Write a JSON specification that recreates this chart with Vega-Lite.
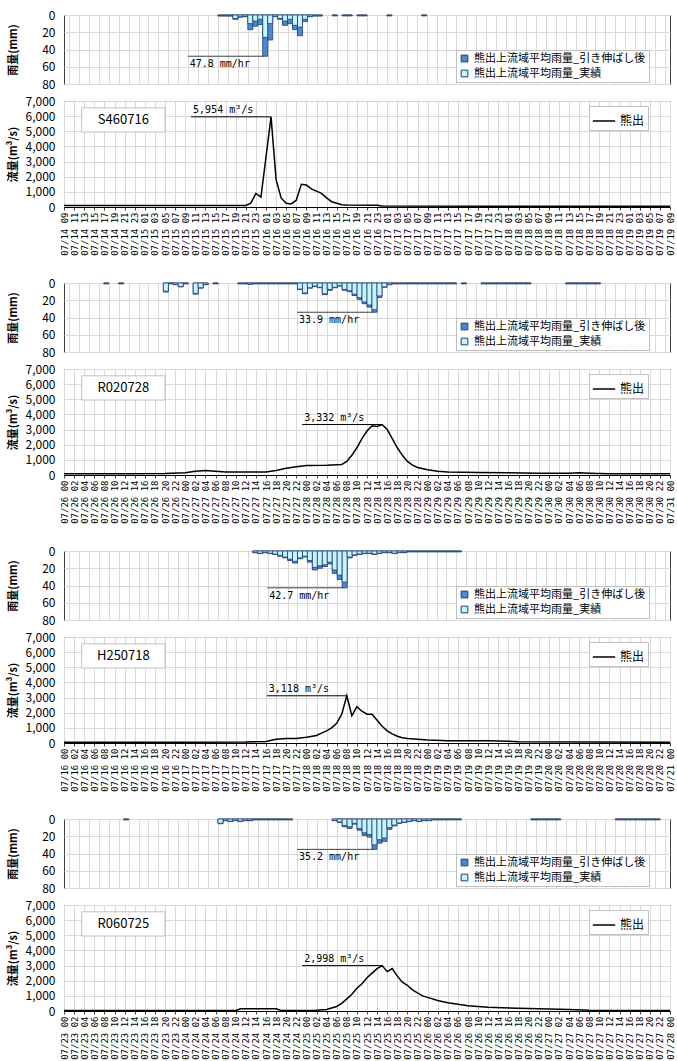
{
"$schema": "https://vega.github.io/schema/vega-lite/v6.json",
"padding": {"left": 6, "top": 8, "right": 4, "bottom": 0},
"config": {
  "font": "Noto Sans CJK JP",
  "view": {"stroke": "#404040", "strokeWidth": 1},
  "axis": {"gridColor": "#d9d9d9", "gridWidth": 1, "labelFont": "Noto Sans CJK JP", "titleFont": "Noto Sans CJK JP", "domainColor": "#404040", "tickColor": "#404040", "labelColor": "#000000", "titleColor": "#000000", "labelOverlap": false},
  "axisY": {"ticks": false, "domain": false, "labelPadding": 9, "labelFontSize": 12, "titleX": -51, "titleBaseline": "middle", "titleFontSize": 11, "titleFontWeight": "bold", "labelOverlap": false},
  "legend": {"labelFont": "Noto Sans CJK JP", "labelColor": "#000000"}
},
"datasets": {
"r1": [
{"t":"1971-07-15T15:00","s":1.2,"a":0.8},{"t":"1971-07-15T16:00","s":1.2,"a":0.8},{"t":"1971-07-15T17:00","s":1.2,"a":0.8},
{"t":"1971-07-15T18:00","s":5,"a":4},{"t":"1971-07-15T19:00","s":2.5,"a":2},{"t":"1971-07-15T20:00","s":2,"a":1.5},
{"t":"1971-07-15T21:00","s":17,"a":10},{"t":"1971-07-15T22:00","s":13,"a":7},{"t":"1971-07-15T23:00","s":11,"a":5},
{"t":"1971-07-16T00:00","s":47.8,"a":26},{"t":"1971-07-16T01:00","s":29,"a":10},{"t":"1971-07-16T02:00","s":2,"a":1.5},
{"t":"1971-07-16T03:00","s":5,"a":4},{"t":"1971-07-16T04:00","s":12,"a":7},{"t":"1971-07-16T05:00","s":10,"a":5},
{"t":"1971-07-16T06:00","s":17,"a":12},{"t":"1971-07-16T07:00","s":24,"a":14},{"t":"1971-07-16T08:00","s":7.5,"a":5},
{"t":"1971-07-16T09:00","s":2,"a":1.5},{"t":"1971-07-16T10:00","s":1.2,"a":0.8},{"t":"1971-07-16T11:00","s":1.2,"a":0.8},
{"t":"1971-07-16T14:00","s":1,"a":0.7},{"t":"1971-07-16T16:00","s":1,"a":0.7},{"t":"1971-07-16T17:00","s":1,"a":0.7},
{"t":"1971-07-16T19:00","s":1,"a":0.7},{"t":"1971-07-16T20:00","s":1,"a":0.7},{"t":"1971-07-17T01:00","s":1,"a":0.7},
{"t":"1971-07-17T08:00","s":1,"a":0.7}
],
"f1": [
{"t":"1971-07-14T09:00","q":100},{"t":"1971-07-15T09:00","q":100},{"t":"1971-07-15T21:00","q":100},
{"t":"1971-07-15T22:00","q":250},{"t":"1971-07-15T23:00","q":900},{"t":"1971-07-16T00:00","q":650},
{"t":"1971-07-16T01:00","q":3300},{"t":"1971-07-16T02:00","q":5954},{"t":"1971-07-16T03:00","q":1800},
{"t":"1971-07-16T04:00","q":600},{"t":"1971-07-16T05:00","q":250},{"t":"1971-07-16T06:00","q":200},
{"t":"1971-07-16T07:00","q":450},{"t":"1971-07-16T08:00","q":1500},{"t":"1971-07-16T09:00","q":1450},
{"t":"1971-07-16T10:00","q":1200},{"t":"1971-07-16T11:00","q":1050},{"t":"1971-07-16T12:00","q":900},
{"t":"1971-07-16T13:00","q":600},{"t":"1971-07-16T14:00","q":350},{"t":"1971-07-16T15:00","q":250},
{"t":"1971-07-16T16:00","q":150},{"t":"1971-07-16T17:00","q":130},{"t":"1971-07-16T23:00","q":120},
{"t":"1971-07-17T00:00","q":60},{"t":"1971-07-18T00:00","q":50},{"t":"1971-07-19T09:00","q":50}
],
"r2": [
{"t":"2020-07-26T07:00","s":1,"a":0.7},{"t":"2020-07-26T10:00","s":1,"a":0.7},{"t":"2020-07-26T19:00","s":10.5,"a":9.5},
{"t":"2020-07-26T20:00","s":1,"a":0.7},{"t":"2020-07-26T21:00","s":2,"a":1.5},{"t":"2020-07-26T22:00","s":4.5,"a":4},
{"t":"2020-07-26T23:00","s":1,"a":0.7},{"t":"2020-07-27T01:00","s":13,"a":12},{"t":"2020-07-27T02:00","s":6,"a":5.5},
{"t":"2020-07-27T03:00","s":2,"a":1.5},{"t":"2020-07-27T05:00","s":1,"a":0.7},
{"t":"2020-07-27T10:00","s":1,"a":0.7},{"t":"2020-07-27T11:00","s":1,"a":0.7},{"t":"2020-07-27T12:00","s":1.5,"a":1.2},
{"t":"2020-07-27T13:00","s":1,"a":0.7},{"t":"2020-07-27T14:00","s":1,"a":0.7},{"t":"2020-07-27T15:00","s":1,"a":0.7},
{"t":"2020-07-27T16:00","s":1,"a":0.7},{"t":"2020-07-27T17:00","s":1,"a":0.7},{"t":"2020-07-27T18:00","s":1,"a":0.7},
{"t":"2020-07-27T19:00","s":1,"a":0.7},{"t":"2020-07-27T20:00","s":1,"a":0.7},{"t":"2020-07-27T21:00","s":1,"a":0.7},
{"t":"2020-07-27T22:00","s":7.5,"a":7},{"t":"2020-07-27T23:00","s":12.5,"a":11.5},{"t":"2020-07-28T00:00","s":6,"a":5.5},
{"t":"2020-07-28T01:00","s":4,"a":3.5},{"t":"2020-07-28T02:00","s":5.5,"a":5},{"t":"2020-07-28T03:00","s":13.5,"a":12.5},
{"t":"2020-07-28T04:00","s":8.5,"a":7.5},{"t":"2020-07-28T05:00","s":5.5,"a":5},{"t":"2020-07-28T06:00","s":3.5,"a":3},
{"t":"2020-07-28T07:00","s":8.5,"a":7.5},{"t":"2020-07-28T08:00","s":10,"a":9},{"t":"2020-07-28T09:00","s":14.5,"a":13},
{"t":"2020-07-28T10:00","s":19,"a":17},{"t":"2020-07-28T11:00","s":24,"a":22},{"t":"2020-07-28T12:00","s":28,"a":25.5},
{"t":"2020-07-28T13:00","s":33.9,"a":31},{"t":"2020-07-28T14:00","s":17,"a":15},{"t":"2020-07-28T15:00","s":5,"a":4.5},
{"t":"2020-07-28T16:00","s":2,"a":1.5},{"t":"2020-07-28T17:00","s":1,"a":0.7},{"t":"2020-07-28T18:00","s":1,"a":0.7},
{"t":"2020-07-28T19:00","s":1,"a":0.7},{"t":"2020-07-28T20:00","s":1,"a":0.7},{"t":"2020-07-28T21:00","s":1,"a":0.7},
{"t":"2020-07-28T22:00","s":1,"a":0.7},{"t":"2020-07-28T23:00","s":1,"a":0.7},{"t":"2020-07-29T00:00","s":1,"a":0.7},
{"t":"2020-07-29T01:00","s":1,"a":0.7},{"t":"2020-07-29T02:00","s":1,"a":0.7},{"t":"2020-07-29T03:00","s":1,"a":0.7},
{"t":"2020-07-29T04:00","s":1,"a":0.7},{"t":"2020-07-29T05:00","s":1,"a":0.7},{"t":"2020-07-29T07:00","s":1,"a":0.7},
{"t":"2020-07-29T11:00","s":1,"a":0.7},{"t":"2020-07-29T12:00","s":1,"a":0.7},{"t":"2020-07-29T13:00","s":1,"a":0.7},
{"t":"2020-07-29T14:00","s":1,"a":0.7},{"t":"2020-07-29T15:00","s":1,"a":0.7},{"t":"2020-07-29T16:00","s":1,"a":0.7},
{"t":"2020-07-29T17:00","s":1,"a":0.7},{"t":"2020-07-29T18:00","s":1,"a":0.7},{"t":"2020-07-29T19:00","s":1,"a":0.7},
{"t":"2020-07-29T20:00","s":1,"a":0.7},{"t":"2020-07-30T04:00","s":1,"a":0.7},{"t":"2020-07-30T05:00","s":1,"a":0.7},
{"t":"2020-07-30T06:00","s":1,"a":0.7},{"t":"2020-07-30T07:00","s":1,"a":0.7},{"t":"2020-07-30T08:00","s":1,"a":0.7},
{"t":"2020-07-30T09:00","s":1,"a":0.7},{"t":"2020-07-30T10:00","s":1,"a":0.7}
],
"f2": [
{"t":"2020-07-26T00:00","q":80},{"t":"2020-07-26T12:00","q":80},{"t":"2020-07-26T20:00","q":100},
{"t":"2020-07-27T00:00","q":150},{"t":"2020-07-27T02:00","q":250},{"t":"2020-07-27T04:00","q":300},
{"t":"2020-07-27T06:00","q":250},{"t":"2020-07-27T08:00","q":200},{"t":"2020-07-27T16:00","q":200},
{"t":"2020-07-27T18:00","q":300},{"t":"2020-07-27T20:00","q":450},{"t":"2020-07-27T22:00","q":550},
{"t":"2020-07-28T00:00","q":620},{"t":"2020-07-28T04:00","q":650},{"t":"2020-07-28T07:00","q":700},
{"t":"2020-07-28T08:00","q":900},{"t":"2020-07-28T09:00","q":1300},{"t":"2020-07-28T10:00","q":1800},
{"t":"2020-07-28T11:00","q":2400},{"t":"2020-07-28T12:00","q":2900},{"t":"2020-07-28T13:00","q":3250},
{"t":"2020-07-28T14:00","q":3200},{"t":"2020-07-28T15:00","q":3332},{"t":"2020-07-28T16:00","q":3000},
{"t":"2020-07-28T17:00","q":2400},{"t":"2020-07-28T18:00","q":1800},{"t":"2020-07-28T19:00","q":1300},
{"t":"2020-07-28T20:00","q":900},{"t":"2020-07-28T21:00","q":650},{"t":"2020-07-28T22:00","q":500},
{"t":"2020-07-29T00:00","q":350},{"t":"2020-07-29T02:00","q":250},{"t":"2020-07-29T04:00","q":200},
{"t":"2020-07-29T10:00","q":170},{"t":"2020-07-29T16:00","q":150},{"t":"2020-07-29T22:00","q":120},
{"t":"2020-07-30T04:00","q":120},{"t":"2020-07-30T06:00","q":150},{"t":"2020-07-30T08:00","q":120},
{"t":"2020-07-30T12:00","q":80},{"t":"2020-07-31T00:00","q":80}
],
"r3": [
{"t":"2013-07-17T13:00","s":2,"a":1.5},{"t":"2013-07-17T14:00","s":3,"a":2.5},{"t":"2013-07-17T15:00","s":2,"a":1.5},
{"t":"2013-07-17T16:00","s":3,"a":2.5},{"t":"2013-07-17T17:00","s":4,"a":3.5},{"t":"2013-07-17T18:00","s":6,"a":5},
{"t":"2013-07-17T19:00","s":8,"a":7},{"t":"2013-07-17T20:00","s":11,"a":9.5},{"t":"2013-07-17T21:00","s":14,"a":12},
{"t":"2013-07-17T22:00","s":9,"a":8},{"t":"2013-07-17T23:00","s":7,"a":6},{"t":"2013-07-18T00:00","s":13,"a":11},
{"t":"2013-07-18T01:00","s":22,"a":19},{"t":"2013-07-18T02:00","s":20,"a":17},{"t":"2013-07-18T03:00","s":18,"a":16},
{"t":"2013-07-18T04:00","s":15,"a":13},{"t":"2013-07-18T05:00","s":26,"a":22},{"t":"2013-07-18T06:00","s":33,"a":28},
{"t":"2013-07-18T07:00","s":42.7,"a":36},{"t":"2013-07-18T08:00","s":8,"a":7},{"t":"2013-07-18T09:00","s":5,"a":4.5},
{"t":"2013-07-18T10:00","s":4,"a":3.5},{"t":"2013-07-18T11:00","s":3,"a":2.5},{"t":"2013-07-18T12:00","s":3,"a":2.5},
{"t":"2013-07-18T13:00","s":4,"a":3.5},{"t":"2013-07-18T14:00","s":3,"a":2.5},{"t":"2013-07-18T15:00","s":2,"a":1.5},
{"t":"2013-07-18T16:00","s":2,"a":1.5},{"t":"2013-07-18T17:00","s":3,"a":2.5},{"t":"2013-07-18T18:00","s":2,"a":1.5},
{"t":"2013-07-18T19:00","s":2,"a":1.5},{"t":"2013-07-18T20:00","s":1,"a":0.7},{"t":"2013-07-18T21:00","s":1,"a":0.7},
{"t":"2013-07-18T22:00","s":1,"a":0.7},{"t":"2013-07-18T23:00","s":1,"a":0.7},{"t":"2013-07-19T00:00","s":1,"a":0.7},
{"t":"2013-07-19T01:00","s":1,"a":0.7},{"t":"2013-07-19T02:00","s":1,"a":0.7},{"t":"2013-07-19T03:00","s":1,"a":0.7},
{"t":"2013-07-19T04:00","s":1,"a":0.7},{"t":"2013-07-19T05:00","s":1,"a":0.7},{"t":"2013-07-19T06:00","s":1,"a":0.7}
],
"f3": [
{"t":"2013-07-16T00:00","q":50},{"t":"2013-07-17T00:00","q":50},{"t":"2013-07-17T12:00","q":60},
{"t":"2013-07-17T16:00","q":100},{"t":"2013-07-17T18:00","q":250},{"t":"2013-07-17T20:00","q":300},
{"t":"2013-07-17T22:00","q":300},{"t":"2013-07-18T00:00","q":380},{"t":"2013-07-18T02:00","q":500},
{"t":"2013-07-18T03:00","q":650},{"t":"2013-07-18T04:00","q":800},{"t":"2013-07-18T05:00","q":1000},
{"t":"2013-07-18T06:00","q":1300},{"t":"2013-07-18T07:00","q":1900},{"t":"2013-07-18T08:00","q":3118},
{"t":"2013-07-18T09:00","q":1800},{"t":"2013-07-18T10:00","q":2400},{"t":"2013-07-18T11:00","q":2100},
{"t":"2013-07-18T12:00","q":1900},{"t":"2013-07-18T13:00","q":1900},{"t":"2013-07-18T14:00","q":1500},
{"t":"2013-07-18T15:00","q":1100},{"t":"2013-07-18T16:00","q":800},{"t":"2013-07-18T17:00","q":600},
{"t":"2013-07-18T18:00","q":450},{"t":"2013-07-18T19:00","q":350},{"t":"2013-07-18T20:00","q":300},
{"t":"2013-07-18T22:00","q":250},{"t":"2013-07-19T00:00","q":200},{"t":"2013-07-19T04:00","q":150},
{"t":"2013-07-19T12:00","q":150},{"t":"2013-07-19T16:00","q":120},{"t":"2013-07-19T18:00","q":80},
{"t":"2013-07-21T00:00","q":50}
],
"r4": [
{"t":"2024-07-23T11:00","s":1,"a":0.7},{"t":"2024-07-24T06:00","s":5.5,"a":5},{"t":"2024-07-24T07:00","s":2,"a":1.5},
{"t":"2024-07-24T08:00","s":3,"a":2.5},{"t":"2024-07-24T09:00","s":2,"a":1.5},{"t":"2024-07-24T10:00","s":3,"a":2.5},
{"t":"2024-07-24T11:00","s":2,"a":1.5},{"t":"2024-07-24T12:00","s":2,"a":1.5},{"t":"2024-07-24T13:00","s":1,"a":0.7},
{"t":"2024-07-24T14:00","s":1,"a":0.7},{"t":"2024-07-24T15:00","s":1,"a":0.7},{"t":"2024-07-24T16:00","s":1,"a":0.7},
{"t":"2024-07-24T17:00","s":1,"a":0.7},{"t":"2024-07-24T18:00","s":1,"a":0.7},{"t":"2024-07-24T19:00","s":1,"a":0.7},
{"t":"2024-07-24T20:00","s":1,"a":0.7},{"t":"2024-07-25T05:00","s":2,"a":1.5},{"t":"2024-07-25T06:00","s":4,"a":3.5},
{"t":"2024-07-25T07:00","s":9,"a":7.5},{"t":"2024-07-25T08:00","s":11,"a":9},{"t":"2024-07-25T09:00","s":6,"a":5},
{"t":"2024-07-25T10:00","s":13,"a":11},{"t":"2024-07-25T11:00","s":19,"a":16},{"t":"2024-07-25T12:00","s":21,"a":18},
{"t":"2024-07-25T13:00","s":35.2,"a":30},{"t":"2024-07-25T14:00","s":28,"a":24},{"t":"2024-07-25T15:00","s":26,"a":22},
{"t":"2024-07-25T16:00","s":12,"a":10},{"t":"2024-07-25T17:00","s":8,"a":7},{"t":"2024-07-25T18:00","s":5,"a":4.5},
{"t":"2024-07-25T19:00","s":4,"a":3.5},{"t":"2024-07-25T20:00","s":3,"a":2.5},{"t":"2024-07-25T21:00","s":2,"a":1.5},
{"t":"2024-07-25T22:00","s":3,"a":2.5},{"t":"2024-07-25T23:00","s":2,"a":1.5},{"t":"2024-07-26T00:00","s":2,"a":1.5},
{"t":"2024-07-26T01:00","s":1,"a":0.7},{"t":"2024-07-26T02:00","s":1,"a":0.7},{"t":"2024-07-26T03:00","s":1,"a":0.7},
{"t":"2024-07-26T04:00","s":1,"a":0.7},{"t":"2024-07-26T05:00","s":1,"a":0.7},{"t":"2024-07-26T06:00","s":1,"a":0.7},
{"t":"2024-07-26T21:00","s":1,"a":0.7},{"t":"2024-07-26T22:00","s":1,"a":0.7},{"t":"2024-07-26T23:00","s":1,"a":0.7},
{"t":"2024-07-27T00:00","s":1,"a":0.7},{"t":"2024-07-27T01:00","s":1,"a":0.7},{"t":"2024-07-27T02:00","s":1,"a":0.7},
{"t":"2024-07-27T14:00","s":1,"a":0.7},{"t":"2024-07-27T15:00","s":1,"a":0.7},{"t":"2024-07-27T16:00","s":1,"a":0.7},
{"t":"2024-07-27T17:00","s":1,"a":0.7},{"t":"2024-07-27T18:00","s":1,"a":0.7},{"t":"2024-07-27T19:00","s":1,"a":0.7},
{"t":"2024-07-27T20:00","s":1,"a":0.7},{"t":"2024-07-27T21:00","s":1,"a":0.7},{"t":"2024-07-27T22:00","s":1,"a":0.7}
],
"f4": [
{"t":"2024-07-23T00:00","q":30},{"t":"2024-07-24T10:00","q":30},{"t":"2024-07-24T11:00","q":150},
{"t":"2024-07-24T18:00","q":150},{"t":"2024-07-24T19:00","q":40},{"t":"2024-07-25T02:00","q":50},
{"t":"2024-07-25T04:00","q":100},{"t":"2024-07-25T06:00","q":300},{"t":"2024-07-25T07:00","q":500},
{"t":"2024-07-25T08:00","q":800},{"t":"2024-07-25T09:00","q":1100},{"t":"2024-07-25T10:00","q":1500},
{"t":"2024-07-25T11:00","q":1800},{"t":"2024-07-25T12:00","q":2200},{"t":"2024-07-25T13:00","q":2500},
{"t":"2024-07-25T14:00","q":2800},{"t":"2024-07-25T15:00","q":2998},{"t":"2024-07-25T16:00","q":2600},
{"t":"2024-07-25T17:00","q":2800},{"t":"2024-07-25T18:00","q":2300},{"t":"2024-07-25T19:00","q":1900},
{"t":"2024-07-25T20:00","q":1700},{"t":"2024-07-25T21:00","q":1400},{"t":"2024-07-25T22:00","q":1200},
{"t":"2024-07-25T23:00","q":1000},{"t":"2024-07-26T00:00","q":900},{"t":"2024-07-26T02:00","q":700},
{"t":"2024-07-26T04:00","q":550},{"t":"2024-07-26T06:00","q":450},{"t":"2024-07-26T08:00","q":350},
{"t":"2024-07-26T12:00","q":250},{"t":"2024-07-26T18:00","q":180},{"t":"2024-07-27T00:00","q":130},
{"t":"2024-07-27T04:00","q":100},{"t":"2024-07-27T08:00","q":50},{"t":"2024-07-28T00:00","q":30}
]
},
"resolve": {"scale": {"x": "independent", "y": "independent", "color": "independent"}, "axis": {"x": "independent", "y": "independent"}, "legend": {"color": "independent"}},
"spacing": 20,
"vconcat": [
{
 "bounds": "flush", "spacing": 17,
 "resolve": {"scale": {"x": "independent", "y": "independent", "color": "independent"}, "axis": {"x": "independent", "y": "independent"}, "legend": {"color": "independent"}},
 "vconcat": [
  {"width": 606, "height": 69, "layer": [
   {"data": {"name": "r1"}, "mark": {"type": "bar", "width": 5.05, "xOffset": 2.52, "stroke": "#1f3b6e", "strokeWidth": 0.8},
    "encoding": {
     "x": {"field": "t", "type": "temporal", "title": null, "scale": {"domain": [{"year":1971,"month":7,"date":14,"hours":9},{"year":1971,"month":7,"date":19,"hours":9}], "nice": false},
           "axis": {"values": {"expr": "sequence(datetime(1971,6,14,9), datetime(1971,6,19,9,30), 7200000)"}, "tickCount": 200, "labels": false, "ticks": false, "domain": false, "grid": true}},
     "y": {"field": "s", "type": "quantitative", "title": "雨量(mm)", "scale": {"domain": [0, 80], "reverse": true}, "axis": {"values": [0, 20, 40, 60, 80], "tickCount": 20, "format": "d"}},
     "color": {"datum": "熊出上流域平均雨量_引き伸ばし後", "type": "nominal", "scale": {"domain": ["熊出上流域平均雨量_引き伸ばし後", "熊出上流域平均雨量_実績"], "range": ["#4a8ad4", "#c5f4fc"]},
           "legend": {"orient": "none", "legendX": 392, "legendY": 35, "title": null, "fillColor": "white", "strokeColor": "#bfbfbf", "padding": 3, "labelFontSize": 11, "symbolType": "square", "symbolSize": 45, "symbolStrokeColor": "#1f3b6e", "symbolStrokeWidth": 1, "rowPadding": 3, "labelLimit": 300}}
    }},
   {"data": {"name": "r1"}, "mark": {"type": "bar", "width": 5.05, "xOffset": 2.52, "stroke": "#1f3b6e", "strokeWidth": 0.8},
    "encoding": {"x": {"field": "t", "type": "temporal", "title": null}, "y": {"field": "a", "type": "quantitative", "title": "雨量(mm)"}, "color": {"datum": "熊出上流域平均雨量_実績", "type": "nominal"}}},
   {"data": {"values": [{"t": "1971-07-16T00:00", "v": 47.8, "label": "47.8 mm/hr"}]},
    "mark": {"type": "rule", "xOffset": -75, "x2Offset": 1, "color": "#404040", "strokeWidth": 1},
    "encoding": {"x": {"field": "t", "type": "temporal", "title": null}, "x2": {"field": "t"}, "y": {"field": "v", "type": "quantitative", "title": "雨量(mm)"}}},
   {"data": {"values": [{"t": "1971-07-16T00:00", "v": 47.8, "label": "47.8 mm/hr"}]},
    "mark": {"type": "text", "align": "left", "baseline": "top", "dx": -73, "dy": 3, "font": "DejaVu Sans Mono", "fontSize": 10, "color": "#000000"},
    "encoding": {"x": {"field": "t", "type": "temporal", "title": null}, "y": {"field": "v", "type": "quantitative", "title": "雨量(mm)"}, "text": {"field": "label"}}}
  ]},
  {"width": 606, "height": 106, "layer": [
   {"data": {"name": "f1"}, "mark": {"type": "line", "strokeWidth": 1.5},
    "encoding": {
     "x": {"field": "t", "type": "temporal", "title": null,
           "scale": {"domain": [{"year":1971,"month":7,"date":14,"hours":9},{"year":1971,"month":7,"date":19,"hours":9}], "nice": false},
           "axis": {"values": {"expr": "sequence(datetime(1971,6,14,9), datetime(1971,6,19,9,30), 7200000)"}, "tickCount": 200, "format": "%m/%d %H", "formatType": "time", "labelAngle": 270, "labelFont": "DejaVu Sans Mono", "labelFontSize": 9, "tickSize": 3, "labelPadding": 2, "labelOverlap": false, "grid": true, "domainColor": "#000000"}},
     "y": {"field": "q", "type": "quantitative", "title": "流量(m³/s)", "scale": {"domain": [0, 7000]}, "axis": {"values": [0,1000,2000,3000,4000,5000,6000,7000], "tickCount": 20, "format": ",.0f"}},
     "color": {"datum": "熊出", "type": "nominal", "scale": {"range": ["#000000"]},
       "legend": {"orient": "none", "legendX": 525, "legendY": 5, "title": null, "fillColor": "white", "strokeColor": "#bfbfbf", "padding": 3, "labelFontSize": 12, "symbolType": "stroke", "symbolSize": 500, "symbolStrokeWidth": 1.5}}}},
   {"data": {"values": [{"name": "S460716"}]}, "mark": {"type": "rect", "fill": "white", "stroke": "#bfbfbf", "strokeWidth": 1},
    "encoding": {"x": {"datum": {"year":1971,"month":7,"date":14,"hours":12,"minutes":30}, "type": "temporal", "title": null}, "x2": {"datum": {"year":1971,"month":7,"date":15,"hours":5}},
     "y": {"datum": 6550, "type": "quantitative", "title": "流量(m³/s)"}, "y2": {"datum": 4950}}},
   {"data": {"values": [{"name": "S460716"}]}, "mark": {"type": "text", "fontSize": 13, "color": "#000000"},
    "encoding": {"x": {"datum": {"year":1971,"month":7,"date":14,"hours":20,"minutes":45}, "type": "temporal", "title": null}, "y": {"datum": 5750, "type": "quantitative", "title": "流量(m³/s)"}, "text": {"field": "name"}}},
   {"data": {"values": [{"t": "1971-07-16T02:00", "v": 5954, "label": "5,954 m³/s"}]},
    "mark": {"type": "rule", "xOffset": -80, "x2Offset": 0, "color": "#000000", "strokeWidth": 1},
    "encoding": {"x": {"field": "t", "type": "temporal", "title": null}, "x2": {"field": "t"}, "y": {"field": "v", "type": "quantitative", "title": "流量(m³/s)"}}},
   {"data": {"values": [{"t": "1971-07-16T02:00", "v": 5954, "label": "5,954 m³/s"}]},
    "mark": {"type": "text", "align": "left", "baseline": "alphabetic", "dx": -78, "dy": -4, "font": "DejaVu Sans Mono", "fontSize": 10, "color": "#000000"},
    "encoding": {"x": {"field": "t", "type": "temporal", "title": null}, "y": {"field": "v", "type": "quantitative", "title": "流量(m³/s)"}, "text": {"field": "label"}}}
  ]}
 ]
},
{
 "bounds": "flush", "spacing": 17,
 "resolve": {"scale": {"x": "independent", "y": "independent", "color": "independent"}, "axis": {"x": "independent", "y": "independent"}, "legend": {"color": "independent"}},
 "vconcat": [
  {"width": 606, "height": 69, "layer": [
   {"data": {"name": "r2"}, "mark": {"type": "bar", "width": 5.05, "xOffset": 2.52, "stroke": "#1f3b6e", "strokeWidth": 0.8},
    "encoding": {
     "x": {"field": "t", "type": "temporal", "title": null, "scale": {"domain": [{"year":2020,"month":7,"date":26,"hours":0},{"year":2020,"month":7,"date":31,"hours":0}], "nice": false},
           "axis": {"values": {"expr": "sequence(datetime(2020,6,26,0), datetime(2020,6,31,0,30), 7200000)"}, "tickCount": 200, "labels": false, "ticks": false, "domain": false, "grid": true}},
     "y": {"field": "s", "type": "quantitative", "title": "雨量(mm)", "scale": {"domain": [0, 80], "reverse": true}, "axis": {"values": [0, 20, 40, 60, 80], "tickCount": 20, "format": "d"}},
     "color": {"datum": "熊出上流域平均雨量_引き伸ばし後", "type": "nominal", "scale": {"domain": ["熊出上流域平均雨量_引き伸ばし後", "熊出上流域平均雨量_実績"], "range": ["#4a8ad4", "#c5f4fc"]},
           "legend": {"orient": "none", "legendX": 392, "legendY": 35, "title": null, "fillColor": "white", "strokeColor": "#bfbfbf", "padding": 3, "labelFontSize": 11, "symbolType": "square", "symbolSize": 45, "symbolStrokeColor": "#1f3b6e", "symbolStrokeWidth": 1, "rowPadding": 3, "labelLimit": 300}}
    }},
   {"data": {"name": "r2"}, "mark": {"type": "bar", "width": 5.05, "xOffset": 2.52, "stroke": "#1f3b6e", "strokeWidth": 0.8},
    "encoding": {"x": {"field": "t", "type": "temporal", "title": null}, "y": {"field": "a", "type": "quantitative", "title": "雨量(mm)"}, "color": {"datum": "熊出上流域平均雨量_実績", "type": "nominal"}}},
   {"data": {"values": [{"t": "2020-07-28T13:00", "v": 33.9, "label": "33.9 mm/hr"}]},
    "mark": {"type": "rule", "xOffset": -75, "x2Offset": 1, "color": "#404040", "strokeWidth": 1},
    "encoding": {"x": {"field": "t", "type": "temporal", "title": null}, "x2": {"field": "t"}, "y": {"field": "v", "type": "quantitative", "title": "雨量(mm)"}}},
   {"data": {"values": [{"t": "2020-07-28T13:00", "v": 33.9, "label": "33.9 mm/hr"}]},
    "mark": {"type": "text", "align": "left", "baseline": "top", "dx": -73, "dy": 3, "font": "DejaVu Sans Mono", "fontSize": 10, "color": "#000000"},
    "encoding": {"x": {"field": "t", "type": "temporal", "title": null}, "y": {"field": "v", "type": "quantitative", "title": "雨量(mm)"}, "text": {"field": "label"}}}
  ]},
  {"width": 606, "height": 106, "layer": [
   {"data": {"name": "f2"}, "mark": {"type": "line", "strokeWidth": 1.5},
    "encoding": {
     "x": {"field": "t", "type": "temporal", "title": null,
           "scale": {"domain": [{"year":2020,"month":7,"date":26,"hours":0},{"year":2020,"month":7,"date":31,"hours":0}], "nice": false},
           "axis": {"values": {"expr": "sequence(datetime(2020,6,26,0), datetime(2020,6,31,0,30), 7200000)"}, "tickCount": 200, "format": "%m/%d %H", "formatType": "time", "labelAngle": 270, "labelFont": "DejaVu Sans Mono", "labelFontSize": 9, "tickSize": 3, "labelPadding": 2, "labelOverlap": false, "grid": true, "domainColor": "#000000"}},
     "y": {"field": "q", "type": "quantitative", "title": "流量(m³/s)", "scale": {"domain": [0, 7000]}, "axis": {"values": [0,1000,2000,3000,4000,5000,6000,7000], "tickCount": 20, "format": ",.0f"}},
     "color": {"datum": "熊出", "type": "nominal", "scale": {"range": ["#000000"]},
       "legend": {"orient": "none", "legendX": 525, "legendY": 5, "title": null, "fillColor": "white", "strokeColor": "#bfbfbf", "padding": 3, "labelFontSize": 12, "symbolType": "stroke", "symbolSize": 500, "symbolStrokeWidth": 1.5}}}},
   {"data": {"values": [{"name": "R020728"}]}, "mark": {"type": "rect", "fill": "white", "stroke": "#bfbfbf", "strokeWidth": 1},
    "encoding": {"x": {"datum": {"year":2020,"month":7,"date":26,"hours":3,"minutes":30}, "type": "temporal", "title": null}, "x2": {"datum": {"year":2020,"month":7,"date":26,"hours":20}},
     "y": {"datum": 6550, "type": "quantitative", "title": "流量(m³/s)"}, "y2": {"datum": 4950}}},
   {"data": {"values": [{"name": "R020728"}]}, "mark": {"type": "text", "fontSize": 13, "color": "#000000"},
    "encoding": {"x": {"datum": {"year":2020,"month":7,"date":26,"hours":11,"minutes":45}, "type": "temporal", "title": null}, "y": {"datum": 5750, "type": "quantitative", "title": "流量(m³/s)"}, "text": {"field": "name"}}},
   {"data": {"values": [{"t": "2020-07-28T15:00", "v": 3332, "label": "3,332 m³/s"}]},
    "mark": {"type": "rule", "xOffset": -80, "x2Offset": 0, "color": "#000000", "strokeWidth": 1},
    "encoding": {"x": {"field": "t", "type": "temporal", "title": null}, "x2": {"field": "t"}, "y": {"field": "v", "type": "quantitative", "title": "流量(m³/s)"}}},
   {"data": {"values": [{"t": "2020-07-28T15:00", "v": 3332, "label": "3,332 m³/s"}]},
    "mark": {"type": "text", "align": "left", "baseline": "alphabetic", "dx": -78, "dy": -4, "font": "DejaVu Sans Mono", "fontSize": 10, "color": "#000000"},
    "encoding": {"x": {"field": "t", "type": "temporal", "title": null}, "y": {"field": "v", "type": "quantitative", "title": "流量(m³/s)"}, "text": {"field": "label"}}}
  ]}
 ]
},
{
 "bounds": "flush", "spacing": 17,
 "resolve": {"scale": {"x": "independent", "y": "independent", "color": "independent"}, "axis": {"x": "independent", "y": "independent"}, "legend": {"color": "independent"}},
 "vconcat": [
  {"width": 606, "height": 69, "layer": [
   {"data": {"name": "r3"}, "mark": {"type": "bar", "width": 5.05, "xOffset": 2.52, "stroke": "#1f3b6e", "strokeWidth": 0.8},
    "encoding": {
     "x": {"field": "t", "type": "temporal", "title": null, "scale": {"domain": [{"year":2013,"month":7,"date":16,"hours":0},{"year":2013,"month":7,"date":21,"hours":0}], "nice": false},
           "axis": {"values": {"expr": "sequence(datetime(2013,6,16,0), datetime(2013,6,21,0,30), 7200000)"}, "tickCount": 200, "labels": false, "ticks": false, "domain": false, "grid": true}},
     "y": {"field": "s", "type": "quantitative", "title": "雨量(mm)", "scale": {"domain": [0, 80], "reverse": true}, "axis": {"values": [0, 20, 40, 60, 80], "tickCount": 20, "format": "d"}},
     "color": {"datum": "熊出上流域平均雨量_引き伸ばし後", "type": "nominal", "scale": {"domain": ["熊出上流域平均雨量_引き伸ばし後", "熊出上流域平均雨量_実績"], "range": ["#4a8ad4", "#c5f4fc"]},
           "legend": {"orient": "none", "legendX": 392, "legendY": 35, "title": null, "fillColor": "white", "strokeColor": "#bfbfbf", "padding": 3, "labelFontSize": 11, "symbolType": "square", "symbolSize": 45, "symbolStrokeColor": "#1f3b6e", "symbolStrokeWidth": 1, "rowPadding": 3, "labelLimit": 300}}
    }},
   {"data": {"name": "r3"}, "mark": {"type": "bar", "width": 5.05, "xOffset": 2.52, "stroke": "#1f3b6e", "strokeWidth": 0.8},
    "encoding": {"x": {"field": "t", "type": "temporal", "title": null}, "y": {"field": "a", "type": "quantitative", "title": "雨量(mm)"}, "color": {"datum": "熊出上流域平均雨量_実績", "type": "nominal"}}},
   {"data": {"values": [{"t": "2013-07-18T07:00", "v": 42.7, "label": "42.7 mm/hr"}]},
    "mark": {"type": "rule", "xOffset": -75, "x2Offset": 1, "color": "#404040", "strokeWidth": 1},
    "encoding": {"x": {"field": "t", "type": "temporal", "title": null}, "x2": {"field": "t"}, "y": {"field": "v", "type": "quantitative", "title": "雨量(mm)"}}},
   {"data": {"values": [{"t": "2013-07-18T07:00", "v": 42.7, "label": "42.7 mm/hr"}]},
    "mark": {"type": "text", "align": "left", "baseline": "top", "dx": -73, "dy": 3, "font": "DejaVu Sans Mono", "fontSize": 10, "color": "#000000"},
    "encoding": {"x": {"field": "t", "type": "temporal", "title": null}, "y": {"field": "v", "type": "quantitative", "title": "雨量(mm)"}, "text": {"field": "label"}}}
  ]},
  {"width": 606, "height": 106, "layer": [
   {"data": {"name": "f3"}, "mark": {"type": "line", "strokeWidth": 1.5},
    "encoding": {
     "x": {"field": "t", "type": "temporal", "title": null,
           "scale": {"domain": [{"year":2013,"month":7,"date":16,"hours":0},{"year":2013,"month":7,"date":21,"hours":0}], "nice": false},
           "axis": {"values": {"expr": "sequence(datetime(2013,6,16,0), datetime(2013,6,21,0,30), 7200000)"}, "tickCount": 200, "format": "%m/%d %H", "formatType": "time", "labelAngle": 270, "labelFont": "DejaVu Sans Mono", "labelFontSize": 9, "tickSize": 3, "labelPadding": 2, "labelOverlap": false, "grid": true, "domainColor": "#000000"}},
     "y": {"field": "q", "type": "quantitative", "title": "流量(m³/s)", "scale": {"domain": [0, 7000]}, "axis": {"values": [0,1000,2000,3000,4000,5000,6000,7000], "tickCount": 20, "format": ",.0f"}},
     "color": {"datum": "熊出", "type": "nominal", "scale": {"range": ["#000000"]},
       "legend": {"orient": "none", "legendX": 525, "legendY": 5, "title": null, "fillColor": "white", "strokeColor": "#bfbfbf", "padding": 3, "labelFontSize": 12, "symbolType": "stroke", "symbolSize": 500, "symbolStrokeWidth": 1.5}}}},
   {"data": {"values": [{"name": "H250718"}]}, "mark": {"type": "rect", "fill": "white", "stroke": "#bfbfbf", "strokeWidth": 1},
    "encoding": {"x": {"datum": {"year":2013,"month":7,"date":16,"hours":3,"minutes":30}, "type": "temporal", "title": null}, "x2": {"datum": {"year":2013,"month":7,"date":16,"hours":20}},
     "y": {"datum": 6550, "type": "quantitative", "title": "流量(m³/s)"}, "y2": {"datum": 4950}}},
   {"data": {"values": [{"name": "H250718"}]}, "mark": {"type": "text", "fontSize": 13, "color": "#000000"},
    "encoding": {"x": {"datum": {"year":2013,"month":7,"date":16,"hours":11,"minutes":45}, "type": "temporal", "title": null}, "y": {"datum": 5750, "type": "quantitative", "title": "流量(m³/s)"}, "text": {"field": "name"}}},
   {"data": {"values": [{"t": "2013-07-18T08:00", "v": 3118, "label": "3,118 m³/s"}]},
    "mark": {"type": "rule", "xOffset": -80, "x2Offset": 0, "color": "#000000", "strokeWidth": 1},
    "encoding": {"x": {"field": "t", "type": "temporal", "title": null}, "x2": {"field": "t"}, "y": {"field": "v", "type": "quantitative", "title": "流量(m³/s)"}}},
   {"data": {"values": [{"t": "2013-07-18T08:00", "v": 3118, "label": "3,118 m³/s"}]},
    "mark": {"type": "text", "align": "left", "baseline": "alphabetic", "dx": -78, "dy": -4, "font": "DejaVu Sans Mono", "fontSize": 10, "color": "#000000"},
    "encoding": {"x": {"field": "t", "type": "temporal", "title": null}, "y": {"field": "v", "type": "quantitative", "title": "流量(m³/s)"}, "text": {"field": "label"}}}
  ]}
 ]
},
{
 "bounds": "flush", "spacing": 17,
 "resolve": {"scale": {"x": "independent", "y": "independent", "color": "independent"}, "axis": {"x": "independent", "y": "independent"}, "legend": {"color": "independent"}},
 "vconcat": [
  {"width": 606, "height": 69, "layer": [
   {"data": {"name": "r4"}, "mark": {"type": "bar", "width": 5.05, "xOffset": 2.52, "stroke": "#1f3b6e", "strokeWidth": 0.8},
    "encoding": {
     "x": {"field": "t", "type": "temporal", "title": null, "scale": {"domain": [{"year":2024,"month":7,"date":23,"hours":0},{"year":2024,"month":7,"date":28,"hours":0}], "nice": false},
           "axis": {"values": {"expr": "sequence(datetime(2024,6,23,0), datetime(2024,6,28,0,30), 7200000)"}, "tickCount": 200, "labels": false, "ticks": false, "domain": false, "grid": true}},
     "y": {"field": "s", "type": "quantitative", "title": "雨量(mm)", "scale": {"domain": [0, 80], "reverse": true}, "axis": {"values": [0, 20, 40, 60, 80], "tickCount": 20, "format": "d"}},
     "color": {"datum": "熊出上流域平均雨量_引き伸ばし後", "type": "nominal", "scale": {"domain": ["熊出上流域平均雨量_引き伸ばし後", "熊出上流域平均雨量_実績"], "range": ["#4a8ad4", "#c5f4fc"]},
           "legend": {"orient": "none", "legendX": 392, "legendY": 35, "title": null, "fillColor": "white", "strokeColor": "#bfbfbf", "padding": 3, "labelFontSize": 11, "symbolType": "square", "symbolSize": 45, "symbolStrokeColor": "#1f3b6e", "symbolStrokeWidth": 1, "rowPadding": 3, "labelLimit": 300}}
    }},
   {"data": {"name": "r4"}, "mark": {"type": "bar", "width": 5.05, "xOffset": 2.52, "stroke": "#1f3b6e", "strokeWidth": 0.8},
    "encoding": {"x": {"field": "t", "type": "temporal", "title": null}, "y": {"field": "a", "type": "quantitative", "title": "雨量(mm)"}, "color": {"datum": "熊出上流域平均雨量_実績", "type": "nominal"}}},
   {"data": {"values": [{"t": "2024-07-25T13:00", "v": 35.2, "label": "35.2 mm/hr"}]},
    "mark": {"type": "rule", "xOffset": -75, "x2Offset": 1, "color": "#404040", "strokeWidth": 1},
    "encoding": {"x": {"field": "t", "type": "temporal", "title": null}, "x2": {"field": "t"}, "y": {"field": "v", "type": "quantitative", "title": "雨量(mm)"}}},
   {"data": {"values": [{"t": "2024-07-25T13:00", "v": 35.2, "label": "35.2 mm/hr"}]},
    "mark": {"type": "text", "align": "left", "baseline": "top", "dx": -73, "dy": 3, "font": "DejaVu Sans Mono", "fontSize": 10, "color": "#000000"},
    "encoding": {"x": {"field": "t", "type": "temporal", "title": null}, "y": {"field": "v", "type": "quantitative", "title": "雨量(mm)"}, "text": {"field": "label"}}}
  ]},
  {"width": 606, "height": 106, "layer": [
   {"data": {"name": "f4"}, "mark": {"type": "line", "strokeWidth": 1.5},
    "encoding": {
     "x": {"field": "t", "type": "temporal", "title": null,
           "scale": {"domain": [{"year":2024,"month":7,"date":23,"hours":0},{"year":2024,"month":7,"date":28,"hours":0}], "nice": false},
           "axis": {"values": {"expr": "sequence(datetime(2024,6,23,0), datetime(2024,6,28,0,30), 7200000)"}, "tickCount": 200, "format": "%m/%d %H", "formatType": "time", "labelAngle": 270, "labelFont": "DejaVu Sans Mono", "labelFontSize": 9, "tickSize": 3, "labelPadding": 2, "labelOverlap": false, "grid": true, "domainColor": "#000000"}},
     "y": {"field": "q", "type": "quantitative", "title": "流量(m³/s)", "scale": {"domain": [0, 7000]}, "axis": {"values": [0,1000,2000,3000,4000,5000,6000,7000], "tickCount": 20, "format": ",.0f"}},
     "color": {"datum": "熊出", "type": "nominal", "scale": {"range": ["#000000"]},
       "legend": {"orient": "none", "legendX": 525, "legendY": 5, "title": null, "fillColor": "white", "strokeColor": "#bfbfbf", "padding": 3, "labelFontSize": 12, "symbolType": "stroke", "symbolSize": 500, "symbolStrokeWidth": 1.5}}}},
   {"data": {"values": [{"name": "R060725"}]}, "mark": {"type": "rect", "fill": "white", "stroke": "#bfbfbf", "strokeWidth": 1},
    "encoding": {"x": {"datum": {"year":2024,"month":7,"date":23,"hours":3,"minutes":30}, "type": "temporal", "title": null}, "x2": {"datum": {"year":2024,"month":7,"date":23,"hours":20}},
     "y": {"datum": 6550, "type": "quantitative", "title": "流量(m³/s)"}, "y2": {"datum": 4950}}},
   {"data": {"values": [{"name": "R060725"}]}, "mark": {"type": "text", "fontSize": 13, "color": "#000000"},
    "encoding": {"x": {"datum": {"year":2024,"month":7,"date":23,"hours":11,"minutes":45}, "type": "temporal", "title": null}, "y": {"datum": 5750, "type": "quantitative", "title": "流量(m³/s)"}, "text": {"field": "name"}}},
   {"data": {"values": [{"t": "2024-07-25T15:00", "v": 2998, "label": "2,998 m³/s"}]},
    "mark": {"type": "rule", "xOffset": -80, "x2Offset": 0, "color": "#000000", "strokeWidth": 1},
    "encoding": {"x": {"field": "t", "type": "temporal", "title": null}, "x2": {"field": "t"}, "y": {"field": "v", "type": "quantitative", "title": "流量(m³/s)"}}},
   {"data": {"values": [{"t": "2024-07-25T15:00", "v": 2998, "label": "2,998 m³/s"}]},
    "mark": {"type": "text", "align": "left", "baseline": "alphabetic", "dx": -78, "dy": -4, "font": "DejaVu Sans Mono", "fontSize": 10, "color": "#000000"},
    "encoding": {"x": {"field": "t", "type": "temporal", "title": null}, "y": {"field": "v", "type": "quantitative", "title": "流量(m³/s)"}, "text": {"field": "label"}}}
  ]}
 ]
}
]
}
